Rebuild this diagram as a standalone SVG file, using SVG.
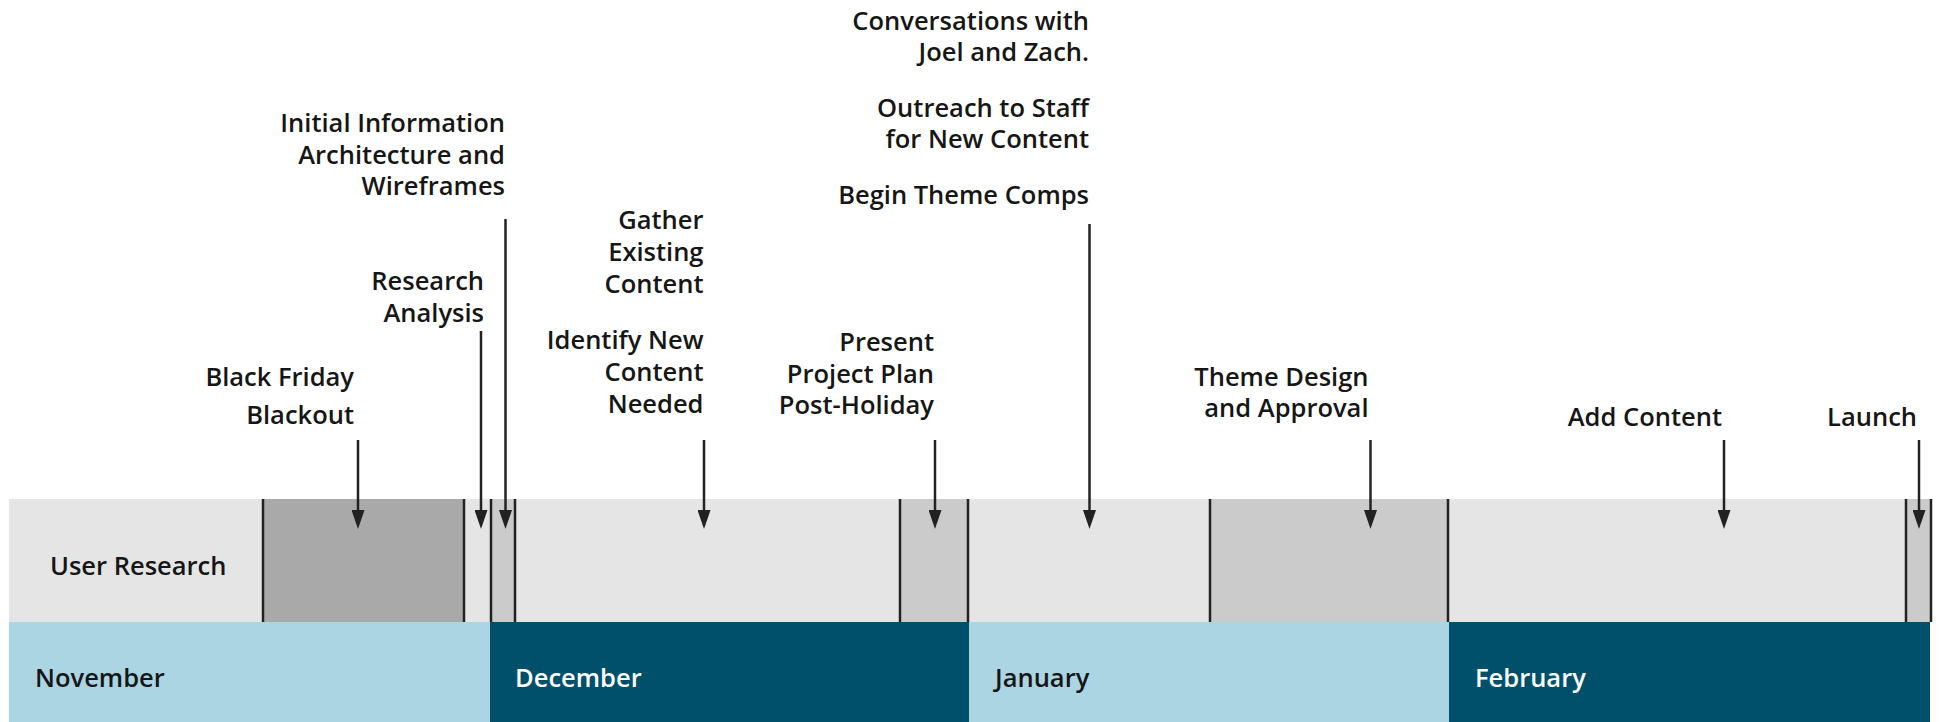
<svg xmlns="http://www.w3.org/2000/svg" width="1939" height="722" viewBox="0 0 1939 722">
<style>
.t{font-family:"Open Sans","Liberation Sans",sans-serif;font-weight:600;font-size:25.5px;fill:#161616}
.r{text-anchor:end}
.w{fill:#ffffff}
.div{stroke:#222;stroke-width:2.5}
.arr{stroke:#222;stroke-width:2.5;fill:none;marker-end:url(#ah)}
</style>
<defs>
<marker id="ah" viewBox="0 0 19 13" refX="10" refY="6.5" markerWidth="19" markerHeight="13" markerUnits="userSpaceOnUse" orient="auto">
<path d="M0,0 L19,6.5 L0,13 z" fill="#222"/>
</marker>
</defs>
<rect width="1939" height="722" fill="#ffffff"/>
<g id="band">
<rect x="9" y="499" width="1922" height="123" fill="#e5e5e5"/>
<rect x="263" y="499" width="201" height="123" fill="#a9a9a9"/>
<rect x="491" y="499" width="24" height="123" fill="#cbcbcb"/>
<rect x="900" y="499" width="68" height="123" fill="#cbcbcb"/>
<rect x="1210" y="499" width="238" height="123" fill="#cbcbcb"/>
<rect x="1906" y="499" width="25" height="123" fill="#cbcbcb"/>
<g class="div">
<line x1="263" y1="499" x2="263" y2="622"/>
<line x1="464" y1="499" x2="464" y2="622"/>
<line x1="491" y1="499" x2="491" y2="622"/>
<line x1="515" y1="499" x2="515" y2="622"/>
<line x1="900" y1="499" x2="900" y2="622"/>
<line x1="968" y1="499" x2="968" y2="622"/>
<line x1="1210" y1="499" x2="1210" y2="622"/>
<line x1="1448" y1="499" x2="1448" y2="622"/>
<line x1="1906" y1="499" x2="1906" y2="622"/>
<line x1="1931" y1="499" x2="1931" y2="622"/>
</g>
<text class="t" x="50" y="575">User Research</text>
</g>
<g id="months">
<g id="november"><rect x="9" y="622" width="481" height="100" fill="#acd5e4"/><text class="t" x="35" y="687">November</text></g>
<g id="december"><rect x="490" y="622" width="479" height="100" fill="#00506b"/><text class="t w" x="515" y="687">December</text></g>
<g id="january"><rect x="969" y="622" width="480" height="100" fill="#acd5e4"/><text class="t" x="995" y="687">January</text></g>
<g id="february"><rect x="1449" y="622" width="481" height="100" fill="#00506b"/><text class="t w" x="1475" y="687">February</text></g>
</g>
<g id="black-friday"><text class="t r" x="354" y="386">Black Friday</text><text class="t r" x="354" y="424">Blackout</text></g>
<g id="research-analysis"><text class="t r" x="484" y="290">Research</text><text class="t r" x="484" y="322">Analysis</text></g>
<g id="initial-ia"><text class="t r" x="505" y="132">Initial Information</text><text class="t r" x="505" y="163.5">Architecture and</text><text class="t r" x="505" y="195">Wireframes</text></g>
<g id="gather"><text class="t r" x="703.5" y="229">Gather</text><text class="t r" x="703.5" y="261">Existing</text><text class="t r" x="703.5" y="293">Content</text></g>
<g id="identify"><text class="t r" x="703.5" y="349">Identify New</text><text class="t r" x="703.5" y="381">Content</text><text class="t r" x="703.5" y="412.5">Needed</text></g>
<g id="conversations"><text class="t r" x="1089" y="29.5">Conversations with</text><text class="t r" x="1089" y="61">Joel and Zach.</text></g>
<g id="outreach"><text class="t r" x="1089" y="116.7">Outreach to Staff</text><text class="t r" x="1089" y="148.3">for New Content</text></g>
<g id="begin-theme"><text class="t r" x="1089" y="204">Begin Theme Comps</text></g>
<g id="present"><text class="t r" x="934" y="350.7">Present</text><text class="t r" x="934" y="382.7">Project Plan</text><text class="t r" x="934" y="414.3">Post-Holiday</text></g>
<g id="theme-design"><text class="t r" x="1368.5" y="386">Theme Design</text><text class="t r" x="1368.5" y="417">and Approval</text></g>
<g id="add-content"><text class="t r" x="1722" y="426">Add Content</text></g>
<g id="launch"><text class="t r" x="1917" y="426">Launch</text></g>
<g id="connectors">
<line class="arr" x1="358" y1="440" x2="358" y2="520"/>
<line class="arr" x1="481" y1="331" x2="481" y2="520"/>
<line class="arr" x1="505.5" y1="219" x2="505.5" y2="520"/>
<line class="arr" x1="704" y1="440" x2="704" y2="520"/>
<line class="arr" x1="935" y1="440" x2="935" y2="520"/>
<line class="arr" x1="1089.5" y1="224" x2="1089.5" y2="520"/>
<line class="arr" x1="1370.5" y1="440" x2="1370.5" y2="520"/>
<line class="arr" x1="1724" y1="440" x2="1724" y2="520"/>
<line class="arr" x1="1919" y1="440" x2="1919" y2="520"/>
</g>
</svg>
